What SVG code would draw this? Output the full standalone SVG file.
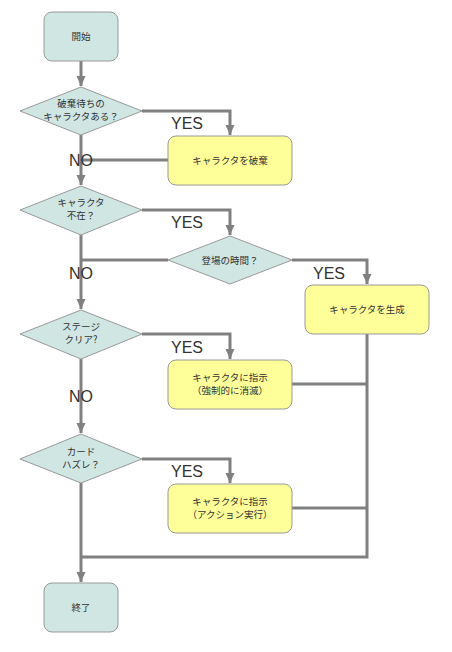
<svg xmlns="http://www.w3.org/2000/svg" width="452" height="652" viewBox="0 0 452 652">
<style>
.term{fill:#cfe6e3;stroke:#999;stroke-width:1}
.dec{fill:#cfe6e3;stroke:#999;stroke-width:1}
.proc{fill:#ffff99;stroke:#999;stroke-width:1}
.t{font-family:"Noto Sans CJK JP","Liberation Sans",sans-serif;font-size:9.5px;fill:#333;text-anchor:middle}
.lbl{font-family:"Liberation Sans",Arial,sans-serif;font-size:16px;fill:#333;text-anchor:middle}
.c{fill:none;stroke:#808080;stroke-width:3}
</style>
<defs>
<marker id="ah" markerUnits="userSpaceOnUse" markerWidth="12" markerHeight="10" refX="10" refY="4.5" orient="auto">
<path d="M0,0 L10,4.5 L0,9 z" fill="#808080"/>
</marker>
</defs>
<rect width="452" height="652" fill="#fff"/>
<g id="connectors">
<path class="c" d="M81,61 V86" marker-end="url(#ah)"/>
<path class="c" d="M142,111 H230 V135" marker-end="url(#ah)"/>
<path class="c" d="M168,160 H81"/>
<path class="c" d="M81,135 V185" marker-end="url(#ah)"/>
<path class="c" d="M142,210 H230 V235" marker-end="url(#ah)"/>
<path class="c" d="M168,260 H81"/>
<path class="c" d="M292,260 H367 V284" marker-end="url(#ah)"/>
<path class="c" d="M81,235 V309" marker-end="url(#ah)"/>
<path class="c" d="M142,334 H230 V359" marker-end="url(#ah)"/>
<path class="c" d="M81,359 V433" marker-end="url(#ah)"/>
<path class="c" d="M142,459 H230 V483" marker-end="url(#ah)"/>
<path class="c" d="M367,334 V557 H81"/>
<path class="c" d="M292,384 H367"/>
<path class="c" d="M292,508 H367"/>
<path class="c" d="M81,483 V582" marker-end="url(#ah)"/>
<text class="lbl" x="187" y="129">YES</text>
<text class="lbl" x="81" y="166">NO</text>
<text class="lbl" x="187" y="228">YES</text>
<text class="lbl" x="81" y="279">NO</text>
<text class="lbl" x="329" y="279">YES</text>
<text class="lbl" x="187" y="353">YES</text>
<text class="lbl" x="81" y="402">NO</text>
<text class="lbl" x="187" y="477">YES</text>
</g>
<g id="start">
<rect class="term" x="44" y="12" width="74" height="49" rx="8"/>
<text class="t" x="81" y="40">開始</text>
</g>
<g id="q1">
<polygon class="dec" points="81,87 142,111 81,135 20,111"/>
<text class="t" x="81" y="107">破棄待ちの</text>
<text class="t" x="81" y="120">キャラクタある？</text>
</g>
<g id="discard">
<rect class="proc" x="168" y="136" width="124" height="49" rx="8"/>
<text class="t" x="230" y="164">キャラクタを破棄</text>
</g>
<g id="q2">
<polygon class="dec" points="81,186 142,210 81,235 20,210"/>
<text class="t" x="81" y="206">キャラクタ</text>
<text class="t" x="81" y="219">不在？</text>
</g>
<g id="q3">
<polygon class="dec" points="230,236 292,260 230,284 168,260"/>
<text class="t" x="230" y="264">登場の時間？</text>
</g>
<g id="create">
<rect class="proc" x="305" y="285" width="124" height="49" rx="8"/>
<text class="t" x="367" y="313">キャラクタを生成</text>
</g>
<g id="q4">
<polygon class="dec" points="81,310 142,334 81,359 20,334"/>
<text class="t" x="81" y="330">ステージ</text>
<text class="t" x="81" y="343">クリア?</text>
</g>
<g id="vanish">
<rect class="proc" x="168" y="360" width="124" height="49" rx="8"/>
<text class="t" x="230" y="381">キャラクタに指示</text>
<text class="t" x="230" y="394">（強制的に消滅）</text>
</g>
<g id="q5">
<polygon class="dec" points="81,434 142,459 81,483 20,459"/>
<text class="t" x="81" y="455">カード</text>
<text class="t" x="81" y="468">ハズレ？</text>
</g>
<g id="action">
<rect class="proc" x="168" y="484" width="124" height="49" rx="8"/>
<text class="t" x="230" y="505">キャラクタに指示</text>
<text class="t" x="230" y="518">（アクション実行）</text>
</g>
<g id="end">
<rect class="term" x="44" y="583" width="74" height="49" rx="8"/>
<text class="t" x="81" y="611">終了</text>
</g>
</svg>
